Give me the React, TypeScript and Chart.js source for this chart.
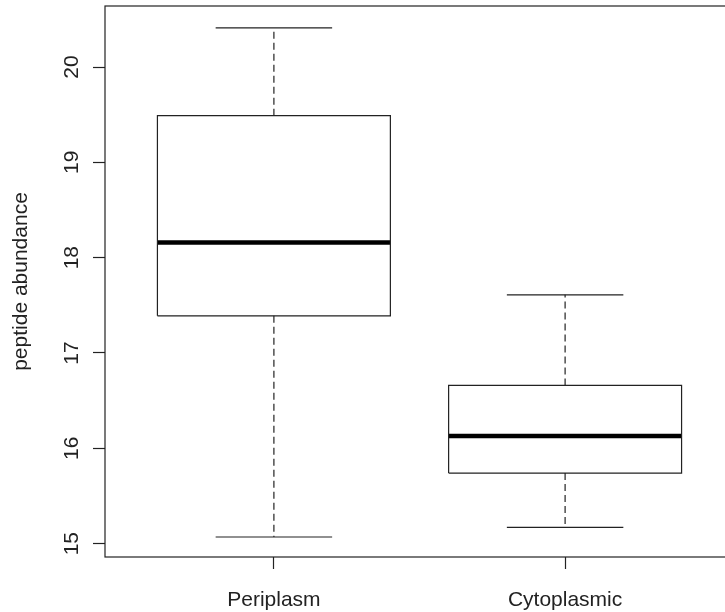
import React, { useEffect, useRef } from "react";
import { Chart, registerables } from "chart.js";

Chart.register(...registerables);

// Five-number summaries per compartment
const categories = ["Periplasm", "Cytoplasmic"];
const lowerWhisker = [15.07, 15.17];
const q1 = [17.39, 15.74];
const median = [18.16, 16.13];
const q3 = [19.49, 16.66];
const upperWhisker = [20.41, 17.61];
const yTicks = [15, 16, 17, 18, 19, 20];

const BOX_HALF = 0.4;
const CAP_HALF = 0.2;
const INK = "#222";
const FONT = "'Liberation Sans', Arial, sans-serif";

type Pt = { x: number; y: number };

function seg(points: Pt[], width: number, dash: number[] = [], color = INK) {
  return {
    data: points,
    showLine: true,
    borderColor: color,
    borderWidth: width,
    borderDash: dash,
    pointRadius: 0,
    pointHoverRadius: 0,
    fill: false,
    tension: 0,
  };
}

function buildDatasets() {
  const sets: any[] = [];
  categories.forEach((_, i) => {
    const c = i + 1;
    // whiskers
    sets.push(seg([{ x: c, y: q3[i] }, { x: c, y: upperWhisker[i] }], 1.2, [7, 4]));
    sets.push(seg([{ x: c, y: q1[i] }, { x: c, y: lowerWhisker[i] }], 1.2, [7, 4]));
    // staples
    sets.push(seg([{ x: c - CAP_HALF, y: upperWhisker[i] }, { x: c + CAP_HALF, y: upperWhisker[i] }], 1.2));
    sets.push(seg([{ x: c - CAP_HALF, y: lowerWhisker[i] }, { x: c + CAP_HALF, y: lowerWhisker[i] }], 1.2));
    // box
    sets.push(
      seg(
        [
          { x: c - BOX_HALF, y: q1[i] },
          { x: c + BOX_HALF, y: q1[i] },
          { x: c + BOX_HALF, y: q3[i] },
          { x: c - BOX_HALF, y: q3[i] },
          { x: c - BOX_HALF, y: q1[i] },
        ],
        1.2
      )
    );
    // median
    sets.push(seg([{ x: c - BOX_HALF, y: median[i] }, { x: c + BOX_HALF, y: median[i] }], 4.5, [], "#000"));
  });
  return sets;
}

// Frame around the plotting region plus vertical y tick labels
const framePlugin = {
  id: "frame",
  afterDraw(chart: any) {
    const { ctx, chartArea } = chart;
    ctx.save();
    ctx.strokeStyle = INK;
    ctx.lineWidth = 1.2;
    ctx.strokeRect(chartArea.left, chartArea.top, chartArea.right - chartArea.left, chartArea.bottom - chartArea.top);

    const yScale = chart.scales.y;
    ctx.fillStyle = INK;
    ctx.font = `21px ${FONT}`;
    ctx.textAlign = "center";
    ctx.textBaseline = "middle";
    yTicks.forEach((t) => {
      const py = yScale.getPixelForValue(t);
      ctx.save();
      ctx.translate(72.5, py);
      ctx.rotate(-Math.PI / 2);
      ctx.fillText(String(t), 0, 0);
      ctx.restore();
    });
    ctx.restore();
  },
};

export default function App() {
  const ref = useRef<HTMLCanvasElement>(null);

  useEffect(() => {
    if (!ref.current) return;
    const chart = new Chart(ref.current, {
      type: "scatter",
      data: { datasets: buildDatasets() },
      plugins: [framePlugin],
      options: {
        animation: false,
        responsive: false,
        devicePixelRatio: 1,
        layout: { padding: { top: 6, right: 11, left: 0, bottom: 0 } },
        plugins: { legend: { display: false }, tooltip: { enabled: false } },
        scales: {
          x: {
            type: "linear",
            min: 0.42,
            max: 2.58,
            afterFit: (s: any) => {
              s.height = 55;
            },
            afterBuildTicks: (s: any) => {
              s.ticks = categories.map((_, i) => ({ value: i + 1 }));
            },
            border: { display: false },
            grid: { drawOnChartArea: false, drawTicks: true, tickLength: 12, tickColor: INK, tickWidth: 1.2 },
            ticks: {
              autoSkip: false,
              maxRotation: 0,
              minRotation: 0,
              padding: 19,
              color: INK,
              font: { size: 21, family: FONT },
              callback: (v: any) => categories[Math.round(Number(v)) - 1] ?? "",
            },
          },
          y: {
            type: "linear",
            min: 14.86,
            max: 20.64,
            afterFit: (s: any) => {
              s.width = 105;
            },
            afterBuildTicks: (s: any) => {
              s.ticks = yTicks.map((v) => ({ value: v }));
            },
            border: { display: false },
            grid: { drawOnChartArea: false, drawTicks: true, tickLength: 12, tickColor: INK, tickWidth: 1.2 },
            ticks: { display: false },
            title: {
              display: true,
              text: "peptide abundance",
              color: INK,
              font: { size: 21, family: FONT },
              padding: { top: 9, bottom: 0 },
            },
          },
        },
      },
    });
    return () => chart.destroy();
  }, []);

  return (
    <div
      style={{
        position: "absolute",
        left: 0,
        top: 0,
        width: 725,
        height: 612,
        overflow: "hidden",
        background: "#fff",
      }}
    >
      <canvas ref={ref} width={745} height={612} style={{ display: "block" }} />
    </div>
  );
}
